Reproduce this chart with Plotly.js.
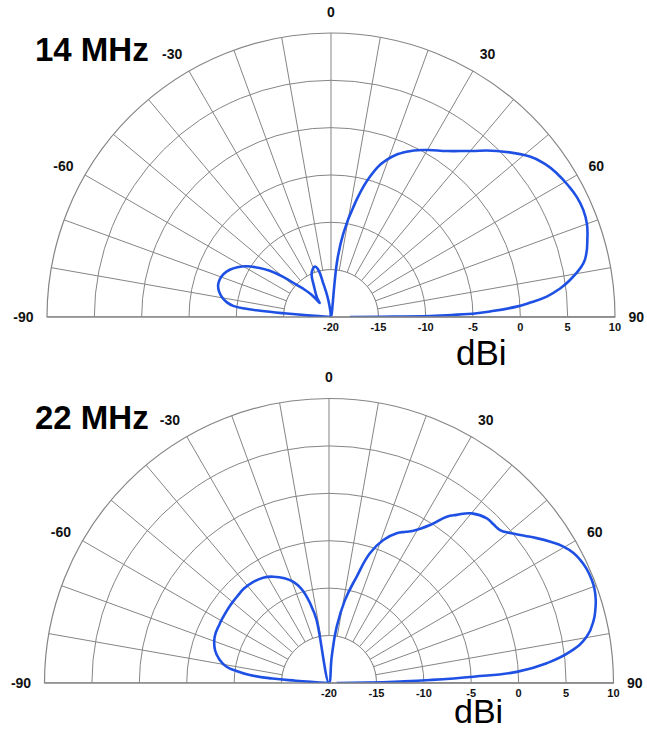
<!DOCTYPE html>
<html>
<head>
<meta charset="utf-8">
<script src="https://cdn.plot.ly/plotly-3.0.1.min.js"></script>
<style>
  html, body { margin: 0; padding: 0; background: #ffffff; }
  #chart { width: 647px; height: 731px; }
</style>
</head>
<body>
<div id="chart"></div>
<script>
// Elevation patterns (dBi) versus elevation angle, 0 = zenith
const theta14 = [-90, -86, -85.5, -85, -84.5, -83.5, -82, -80, -77, -74, -71, -68, -65, -62, -59, -56, -53, -50, -47, -44, -41.5, -40, -39,
  -36.5, -34, -29, -24.7, -21, -17.6, -15, -13, -11, -9, -6, 0, 6.3, 8.4, 11.9, 15.5, 19.5, 24.6, 29.8, 35, 40, 45, 51.1, 54.5, 57.5,
  61, 64, 67, 70, 73.3, 76, 78, 81.2, 83, 84.6, 86, 86.8, 88, 88.5, 89, 89.4, 89.7, 90];
const gain14 = [-20, -17.5, -15, -12.5, -11, -9.6, -8.9, -8.35, -7.85, -7.6, -7.6, -7.8, -8.2, -8.8, -9.6, -10.7, -11.9, -13.4, -15.0, -16.0, -16.8, -17.6, -18.1,
  -17.6, -17.2, -16.3, -15.1, -14.6, -14.4, -14.86, -16.35, -17.3, -18.2, -19.4, -20, -14.0, -11.06, -7.73, -4.62, -2.4, -0.8, 0.33, 1.4, 2.9, 4.8, 6.99, 7.8, 8.27,
  8.65, 8.9, 8.95, 8.77, 8.27, 7.8, 7.25, 5.55, 4.3, 2.89, 0.9, -0.35, -3.2, -4.6, -7.0, -9.54, -14.8, -18];

const theta22 = [-90, -86, -85.5, -84.2, -82.5, -81, -78, -74, -68, -62, -58, -52, -47, -42, -37, -32, -27.6, -23, -19.4, -16.5, -14.5, -12.5, -11.2,
  0, 5.9, 7.8, 10.9, 14.6, 17.5, 20.8, 24.3, 27, 29, 32.6, 35.3, 37.2, 40.1, 43.8, 46, 48.2, 50.4, 53, 55.1, 57.5, 59.8, 62, 63.9, 66, 68.6,
  70.5, 72.7, 74.5, 76.6, 79.8, 82.6, 84.8, 86.6, 87.5, 88.3, 88.8, 89.4, 90];
const gain22 = [-20, -16.5, -14, -11.6, -10.1, -9.07, -8.2, -7.5, -7.0, -6.9, -6.85, -6.75, -6.7, -6.6, -6.67, -6.9, -7.35, -8.0, -8.7, -9.6, -10.6, -12, -13.2,
  -20, -17.2, -14.0, -11.1, -8.4, -5.65, -3.87, -2.67, -2.1, -1.64, -0.22, 1.49, 2.26, 3.38, 4.05, 4.1, 4.2, 4.8, 5.8, 6.7, 7.7, 8.6, 9.2, 9.5, 9.7, 9.77,
  9.7, 9.46, 9.15, 8.7, 7.62, 5.64, 3.06, -0.17, -4.77, -9.35, -12.5, -16, -19.2];

// Axis ticks
const angleTicks = [-90, -80, -70, -60, -50, -40, -30, -20, -10, 0, 10, 20, 30, 40, 50, 60, 70, 80, 90];
const angleLabels = ['-90', '', '', '-60', '', '', '-30', '', '', '0', '', '', '30', '', '', '60', '', '', '90'];
const gainTicks = [-20, -15, -10, -5, 0, 5, 10];
const gainLabels = ['-20', '-15', '-10', '-5', '0', '5', '10'];
const bandNames = ['14 MHz', '22 MHz'];
const unitLabel = 'dBi';

const GRID = '#858585';
const BLUE = '#1f50e4';
const FONT = 'Liberation Sans, Arial, sans-serif';

function polarLayout(dx, dy) {
  return {
    domain: { x: dx, y: dy },
    sector: [0, 180],
    bgcolor: '#ffffff',
    angularaxis: {
      rotation: 90,
      direction: 'clockwise',
      thetaunit: 'degrees',
      tickmode: 'array',
      tickvals: angleTicks,
      ticktext: angleLabels,
      ticks: 'outside',
      ticklen: 10,
      tickcolor: 'rgba(0,0,0,0)',
      showgrid: true,
      gridcolor: GRID,
      gridwidth: 1,
      showline: true,
      linecolor: GRID,
      linewidth: 1.2,
      tickfont: { family: FONT, size: 14, color: '#111111', weight: 'bold' }
    },
    radialaxis: {
      range: [-20, 10],
      angle: 0,
      side: 'clockwise',
      tickmode: 'array',
      tickvals: gainTicks,
      ticktext: gainLabels,
      ticks: '',
      showgrid: true,
      gridcolor: GRID,
      gridwidth: 1,
      showline: true,
      linecolor: GRID,
      linewidth: 1.2,
      tickfont: { family: FONT, size: 11, color: '#111111', weight: 'bold' }
    }
  };
}

// Inner half-disc below -15 dBi is left blank, the horizon line stays visible
const holeTheta = [];
const holeR = [];
for (let a = -90; a <= 90; a += 2) { holeTheta.push(a); holeR.push(gainTicks[1]); }

function subplotTraces(sub, theta, gain) {
  return [
    {
      type: 'scatterpolar', subplot: sub, mode: 'lines',
      theta: holeTheta, r: holeR, fill: 'toself', fillcolor: '#ffffff',
      line: { color: GRID, width: 1 }, hoverinfo: 'skip', showlegend: false
    },
    {
      type: 'scatterpolar', subplot: sub, mode: 'lines',
      theta: [angleTicks[0], angleTicks[angleTicks.length - 1]],
      r: [gainTicks[gainTicks.length - 1], gainTicks[gainTicks.length - 1]],
      line: { color: GRID, width: 1.2 }, hoverinfo: 'skip', showlegend: false
    },
    {
      type: 'scatterpolar', subplot: sub, mode: 'lines',
      theta: theta, r: gain,
      line: { color: BLUE, width: 2.6, shape: 'spline', smoothing: 1.3 },
      hoverinfo: 'skip', showlegend: false
    }
  ];
}

const data = [].concat(
  subplotTraces('polar', theta14, gain14),
  subplotTraces('polar2', theta22, gain22)
);

const layout = {
  width: 647,
  height: 731,
  margin: { l: 0, r: 0, t: 0, b: 0 },
  paper_bgcolor: '#ffffff',
  showlegend: false,
  polar: polarLayout([0.07264, 0.95054], [0.56635, 0.95486]),
  polar2: polarLayout([0.06878, 0.94822], [0.06566, 0.45486]),
  annotations: [
    { text: bandNames[0], x: 92 / 647, y: 1 - 50 / 731, xref: 'paper', yref: 'paper',
      xanchor: 'center', yanchor: 'middle', showarrow: false,
      font: { family: FONT, size: 33, color: '#000000', weight: 'bold' } },
    { text: bandNames[1], x: 92 / 647, y: 1 - 417 / 731, xref: 'paper', yref: 'paper',
      xanchor: 'center', yanchor: 'middle', showarrow: false,
      font: { family: FONT, size: 33, color: '#000000', weight: 'bold' } },
    { text: unitLabel, x: 481 / 647, y: 1 - 352 / 731, xref: 'paper', yref: 'paper',
      xanchor: 'center', yanchor: 'middle', showarrow: false,
      font: { family: FONT, size: 35, color: '#000000' } },
    { text: unitLabel, x: 478 / 647, y: 0, xref: 'paper', yref: 'paper',
      xanchor: 'center', yanchor: 'bottom', showarrow: false, borderpad: 0,
      font: { family: FONT, size: 34, color: '#000000' } }
  ]
};

Plotly.newPlot('chart', data, layout, { staticPlot: true, displayModeBar: false });
</script>
</body>
</html>
